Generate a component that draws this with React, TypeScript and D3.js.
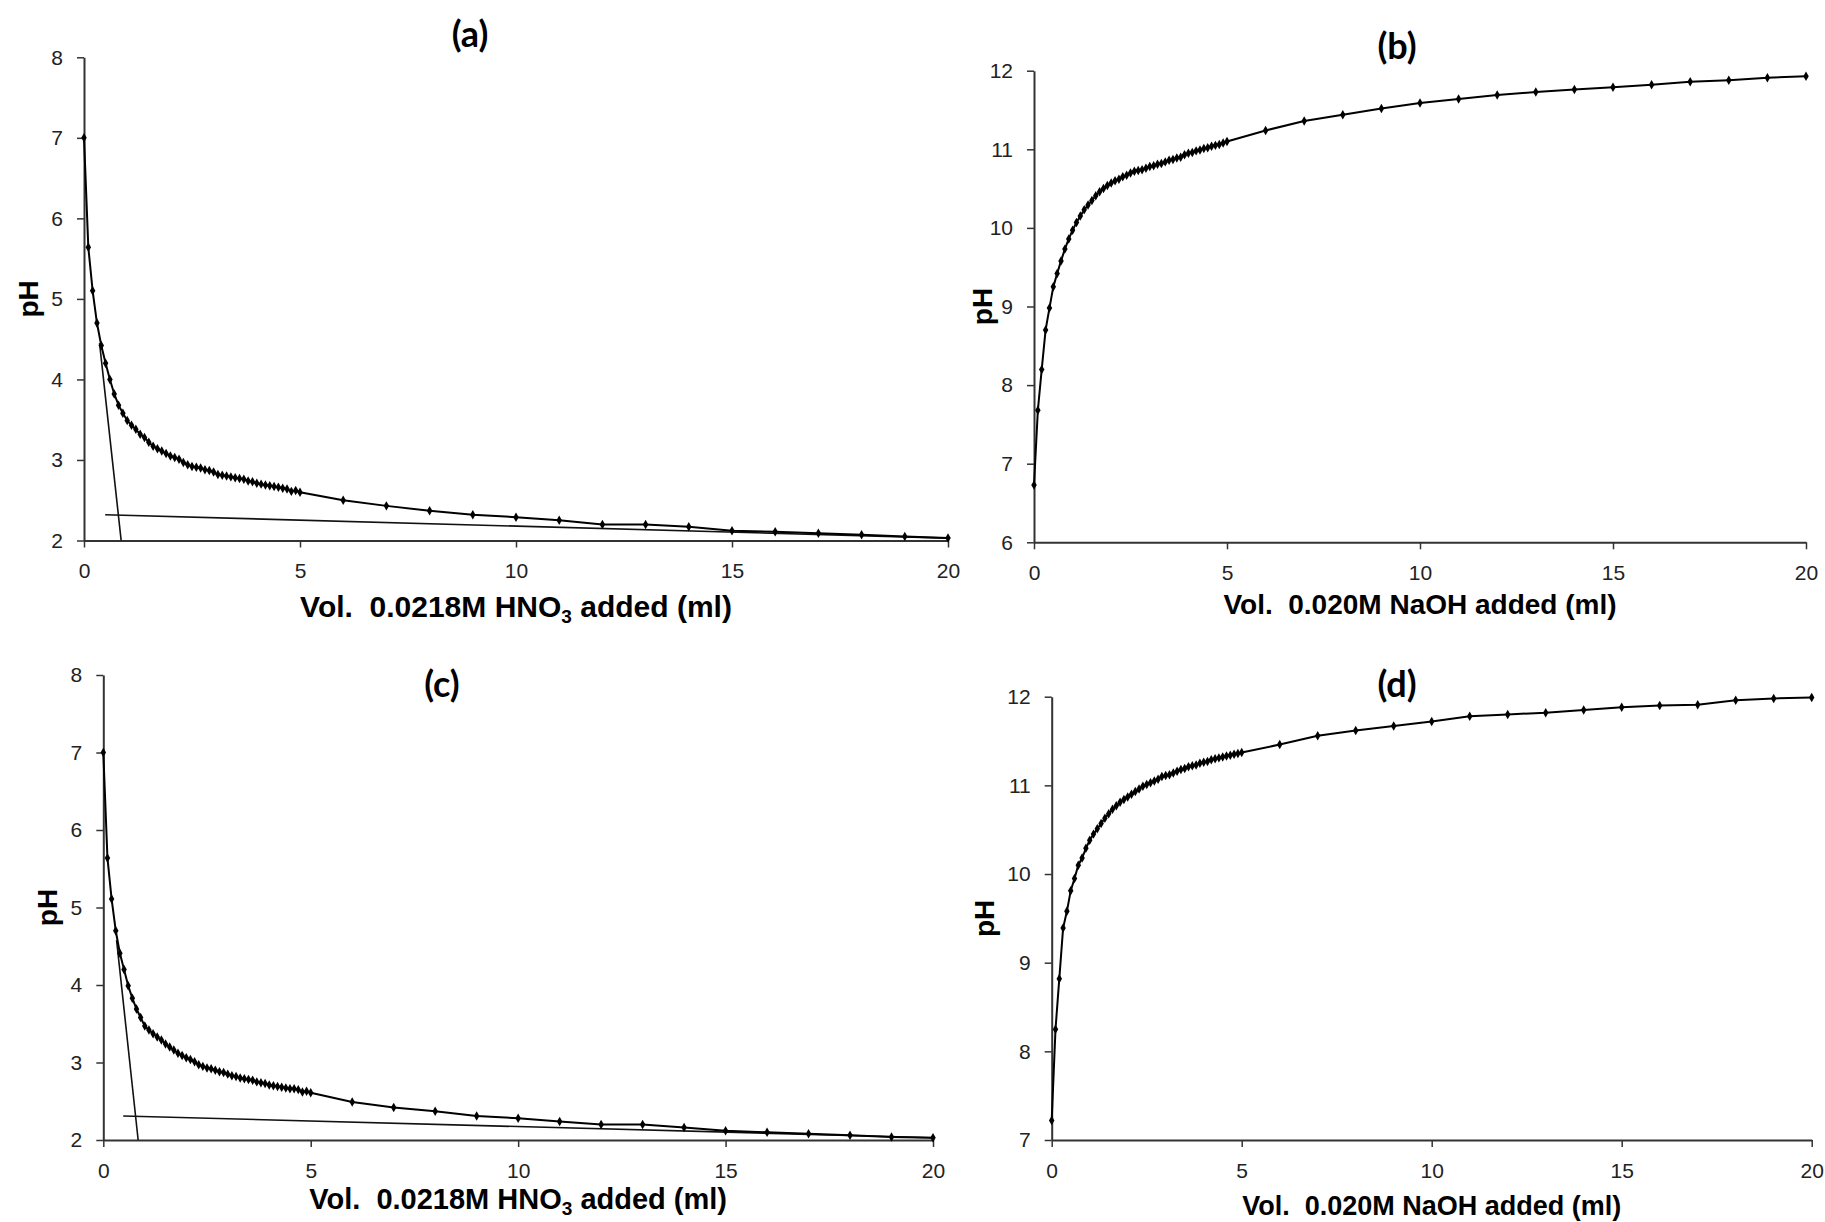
import React, { useEffect, useRef } from 'react';
import * as d3 from 'd3';

// titrant volumes (ml) shared by all four curves
const volumes = [
  0, 0.1, 0.2, 0.3, 0.4, 0.5, 0.6, 0.7, 0.8, 0.9,
  1.0, 1.1, 1.2, 1.3, 1.4, 1.5, 1.6, 1.7, 1.8, 1.9,
  2.0, 2.1, 2.2, 2.3, 2.4, 2.5, 2.6, 2.7, 2.8, 2.9,
  3.0, 3.1, 3.2, 3.3, 3.4, 3.5, 3.6, 3.7, 3.8, 3.9,
  4.0, 4.1, 4.2, 4.3, 4.4, 4.5, 4.6, 4.7, 4.8, 4.9,
  5.0, 6, 7, 8, 9, 10, 11, 12, 13, 14, 15, 16, 17, 18, 19, 20,
];

const phA = [
  7.00, 5.64, 5.10, 4.70, 4.42, 4.20, 4.00, 3.82, 3.68, 3.58,
  3.49, 3.43, 3.38, 3.32, 3.28, 3.22, 3.17, 3.14, 3.11, 3.08,
  3.05, 3.03, 3.01, 2.97, 2.94, 2.92, 2.91, 2.90, 2.88, 2.87,
  2.85, 2.82, 2.81, 2.80, 2.79, 2.78, 2.77, 2.76, 2.74, 2.73,
  2.71, 2.70, 2.69, 2.68, 2.67, 2.66, 2.65, 2.64, 2.61, 2.62,
  2.60, 2.50, 2.43, 2.37, 2.32, 2.29, 2.25, 2.20, 2.20, 2.17,
  2.12, 2.11, 2.09, 2.07, 2.05, 2.03,
];

const phB = [
  6.73, 7.68, 8.20, 8.70, 8.98, 9.25, 9.42, 9.58, 9.73, 9.86,
  9.97, 10.07, 10.15, 10.23, 10.29, 10.35, 10.41, 10.46, 10.50, 10.54,
  10.57, 10.60, 10.62, 10.65, 10.67, 10.70, 10.72, 10.73, 10.74, 10.76,
  10.78, 10.79, 10.81, 10.82, 10.84, 10.86, 10.87, 10.89, 10.90, 10.93,
  10.95, 10.96, 10.98, 10.99, 11.01, 11.02, 11.04, 11.05, 11.06, 11.08,
  11.10, 11.24, 11.36, 11.44, 11.52, 11.59, 11.64, 11.69, 11.73, 11.76,
  11.79, 11.82, 11.86, 11.88, 11.91, 11.93,
];

const phC = [
  7.00, 5.64, 5.11, 4.70, 4.41, 4.20, 3.99, 3.83, 3.69, 3.58,
  3.47, 3.42, 3.37, 3.33, 3.29, 3.24, 3.20, 3.16, 3.12, 3.09,
  3.06, 3.04, 3.01, 2.97, 2.95, 2.93, 2.92, 2.90, 2.88, 2.87,
  2.85, 2.83, 2.82, 2.80, 2.79, 2.78, 2.77, 2.75, 2.74, 2.73,
  2.71, 2.70, 2.69, 2.68, 2.67, 2.66, 2.66, 2.65, 2.62, 2.63,
  2.61, 2.49, 2.42, 2.37, 2.31, 2.28, 2.24, 2.20, 2.20, 2.16,
  2.12, 2.10, 2.08, 2.06, 2.04, 2.03,
];

const phD = [
  7.22, 8.25, 8.82, 9.39, 9.58, 9.81, 9.95, 10.10, 10.18, 10.29,
  10.38, 10.45, 10.51, 10.57, 10.63, 10.68, 10.73, 10.77, 10.81, 10.84,
  10.87, 10.90, 10.93, 10.96, 10.99, 11.01, 11.03, 11.05, 11.07, 11.10,
  11.11, 11.12, 11.14, 11.16, 11.18, 11.19, 11.21, 11.22, 11.23, 11.25,
  11.26, 11.27, 11.29, 11.30, 11.31, 11.32, 11.33, 11.34, 11.35, 11.36,
  11.37, 11.46, 11.56, 11.62, 11.67, 11.72, 11.78, 11.80, 11.82, 11.85,
  11.88, 11.90, 11.91, 11.96, 11.98, 11.99,
];

// tangent lines used for the end point construction (acid curves)
const tangentsA: [number, number][][] = [
  [[0.36, 4.45], [0.86, 2.0]],
  [[0.49, 2.32], [20, 2.03]],
];
const tangentsC: [number, number][][] = [
  [[0.32, 4.58], [0.84, 2.0]],
  [[0.48, 2.31], [20, 2.03]],
];

const xTicks = [0, 5, 10, 15, 20];
const acidTicks = [2, 3, 4, 5, 6, 7, 8];
const baseTicksB = [6, 7, 8, 9, 10, 11, 12];
const baseTicksD = [7, 8, 9, 10, 11, 12];

const titles = ['(a)', '(b)', '(c)', '(d)'];
const acidLabel = ['Vol.  0.0218M HNO', '3', ' added (ml)'];
const baseLabel = ['Vol.  0.020M NaOH added (ml)', '', ''];

interface Panel {
  title: string;
  ph: number[];
  yTicks: number[];
  xLabel: string[];
  labelSize: number;
  tangents: [number, number][][];
  left: number; right: number; top: number; bottom: number;
  titleX: number; titleY: number;
  labelY: number; phX: number;
}

const panels: Panel[] = [
  { title: titles[0], ph: phA, yTicks: acidTicks, xLabel: acidLabel, labelSize: 30, tangents: tangentsA,
    left: 84, right: 948, top: 57.3, bottom: 540.5, titleX: 470, titleY: 47, labelY: 617, phX: 31 },
  { title: titles[1], ph: phB, yTicks: baseTicksB, xLabel: baseLabel, labelSize: 28, tangents: [],
    left: 1034, right: 1806, top: 70.7, bottom: 542.3, titleX: 1397, titleY: 59, labelY: 614, phX: 985 },
  { title: titles[2], ph: phC, yTicks: acidTicks, xLabel: acidLabel, labelSize: 29, tangents: tangentsC,
    left: 103.3, right: 933, top: 675, bottom: 1140, titleX: 442, titleY: 697, labelY: 1209, phX: 50 },
  { title: titles[3], ph: phD, yTicks: baseTicksD, xLabel: baseLabel, labelSize: 27, tangents: [],
    left: 1051.7, right: 1811.7, top: 696.7, bottom: 1140, titleX: 1397, titleY: 697, labelY: 1215, phX: 987 },
];

const App = () => {
  const svgRef = useRef<SVGSVGElement | null>(null);

  useEffect(() => {
    if (!svgRef.current) return;
    const svg = d3.select(svgRef.current);
    svg.selectAll('*').remove();

    panels.forEach((p) => {
      const g = svg.append('g');
      const x = d3.scaleLinear().domain([0, 20]).range([p.left, p.right]);
      const y = d3
        .scaleLinear()
        .domain([p.yTicks[0], p.yTicks[p.yTicks.length - 1]])
        .range([p.bottom, p.top]);

      // axes
      const xAxis = g
        .append('g')
        .attr('transform', `translate(0,${p.bottom})`)
        .call(d3.axisBottom(x).tickValues(xTicks).tickFormat(d3.format('d')).tickSize(7).tickSizeOuter(0).tickPadding(16));
      const yAxis = g
        .append('g')
        .attr('transform', `translate(${p.left},0)`)
        .call(d3.axisLeft(y).tickValues(p.yTicks).tickFormat(d3.format('d')).tickSize(7).tickSizeOuter(0).tickPadding(14));

      [xAxis, yAxis].forEach((ax) => {
        ax.select('.domain').attr('stroke', '#333').attr('stroke-width', 2);
        ax.selectAll('.tick line').attr('stroke', '#333').attr('stroke-width', 1.5);
        ax.selectAll('.tick text')
          .attr('fill', '#222')
          .style('font-family', "'Liberation Sans', Arial, sans-serif")
          .style('font-size', '21px');
      });

      // tangents
      p.tangents.forEach((t) => {
        g.append('line')
          .attr('x1', x(t[0][0]))
          .attr('y1', y(t[0][1]))
          .attr('x2', x(t[1][0]))
          .attr('y2', y(t[1][1]))
          .attr('stroke', '#111')
          .attr('stroke-width', 1.6);
      });

      // curve
      const pts = volumes.map((v, i) => [v, p.ph[i]] as [number, number]);
      const line = d3
        .line<[number, number]>()
        .x((d) => x(d[0]))
        .y((d) => y(d[1]));
      g.append('path')
        .datum(pts)
        .attr('d', line)
        .attr('fill', 'none')
        .attr('stroke', '#000')
        .attr('stroke-width', 2);

      const diamond = d3.symbol().type(d3.symbolDiamond).size(26);
      g.selectAll('path.marker')
        .data(pts)
        .enter()
        .append('path')
        .attr('class', 'marker')
        .attr('d', diamond)
        .attr('transform', (d) => `translate(${x(d[0])},${y(d[1])})`)
        .attr('fill', '#000');

      // panel title
      g.append('text')
        .attr('x', p.titleX)
        .attr('y', p.titleY)
        .attr('text-anchor', 'middle')
        .style('font-family', "Lato, 'Open Sans', sans-serif")
        .style('font-weight', 'bold')
        .style('font-size', '36px')
        .text(p.title);

      // x label
      const xl = g
        .append('text')
        .attr('x', (p.left + p.right) / 2)
        .attr('y', p.labelY)
        .attr('text-anchor', 'middle')
        .style('font-family', "'Liberation Sans', Arial, sans-serif")
        .style('font-weight', 'bold')
        .style('font-size', `${p.labelSize}px`)
        .style('white-space', 'pre');
      xl.append('tspan').text(p.xLabel[0]);
      if (p.xLabel[1]) {
        xl.append('tspan').attr('dy', 6).style('font-size', '19px').text(p.xLabel[1]);
        xl.append('tspan').attr('dy', -6).text(p.xLabel[2]);
      }

      // y label
      g.append('text')
        .attr('transform', `translate(${p.phX},${(p.top + p.bottom) / 2}) rotate(-90)`)
        .attr('text-anchor', 'middle')
        .attr('dominant-baseline', 'middle')
        .style('font-family', "'Liberation Sans', Arial, sans-serif")
        .style('font-weight', 'bold')
        .style('font-size', '28px')
        .text('pH');
    });
  }, []);

  return (
    <div style={{ position: 'absolute', left: 0, top: 0 }}>
      <svg ref={svgRef} width={1825} height={1222} style={{ display: 'block', background: '#fff' }}></svg>
    </div>
  );
};

export default App;
